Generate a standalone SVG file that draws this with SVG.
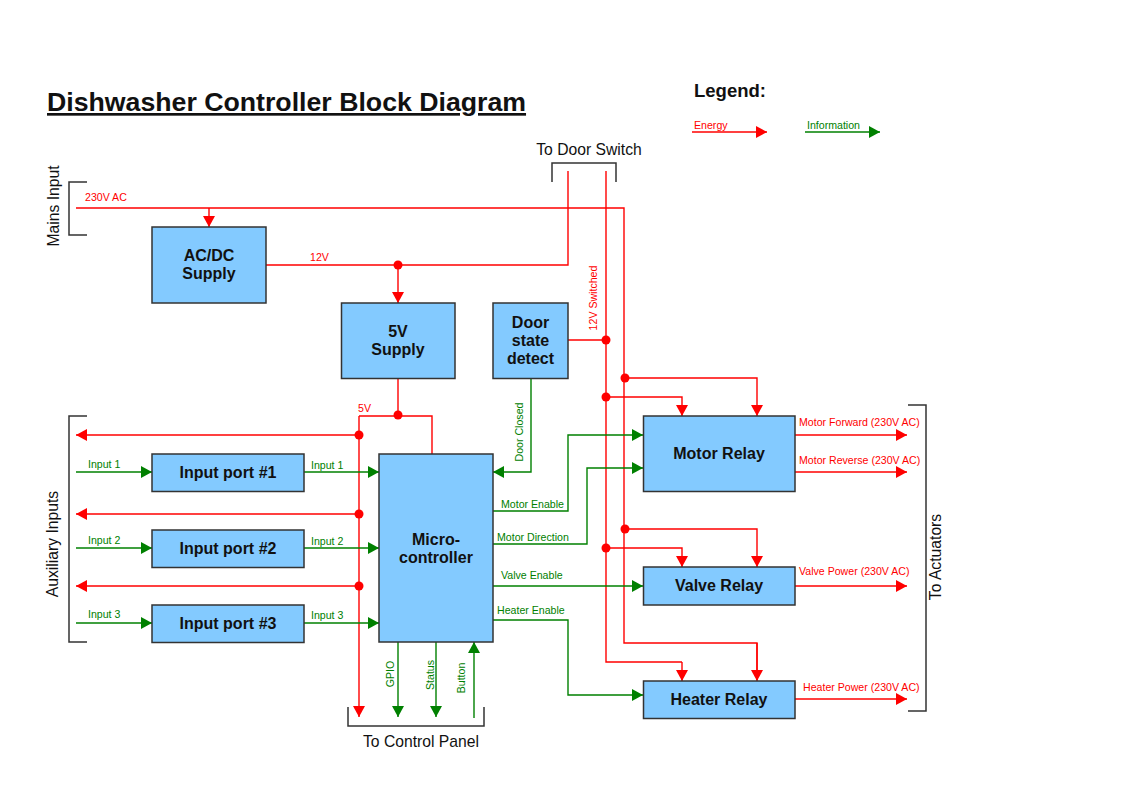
<svg xmlns="http://www.w3.org/2000/svg" width="1123" height="794" viewBox="0 0 1123 794">
<style>
text{font-family:"Liberation Sans",Arial,sans-serif}
.box{fill:#83caff;stroke:#333;stroke-width:1.5}
.bl{font-weight:bold;font-size:16px;fill:#111;text-anchor:middle}
.r{fill:none;stroke:#ff0000;stroke-width:1.4}
.g{fill:none;stroke:#008000;stroke-width:1.4}
.ra{marker-end:url(#ar)}
.ga{marker-end:url(#ag)}
.dot{fill:#ff0000}
.tr{font-size:10.6px;fill:#ff0000}
.tg{font-size:10.6px;fill:#008000}
.br{fill:none;stroke:#333;stroke-width:1.5}
.bt{font-size:15.7px;fill:#111}
</style>
<defs>
<marker id="ar" markerUnits="userSpaceOnUse" markerWidth="11" markerHeight="12" refX="11" refY="6" orient="auto"><path d="M0,0 L11,6 L0,12 z" fill="#ff0000"/></marker>
<marker id="ag" markerUnits="userSpaceOnUse" markerWidth="11" markerHeight="12" refX="11" refY="6" orient="auto"><path d="M0,0 L11,6 L0,12 z" fill="#008000"/></marker>
</defs>
<rect width="1123" height="794" fill="#fff"/>

<text x="47" y="111" font-size="26.7" font-weight="bold" fill="#111" text-decoration="underline">Dishwasher Controller Block Diagram</text>

<g id="legend">
<text x="694" y="97" font-size="18.5" font-weight="bold" fill="#111">Legend:</text>
<text x="694" y="129" class="tr">Energy</text>
<line x1="692" y1="132" x2="767" y2="132" class="r ra"/>
<text x="807" y="129" class="tg">Information</text>
<line x1="805" y1="132" x2="880" y2="132" class="g ga"/>
</g>

<g id="brackets">
<path class="br" d="M87,182 H69 V235 H87"/>
<text class="bt" text-anchor="middle" transform="translate(59,206) rotate(-90)">Mains Input</text>
<path class="br" d="M87,416 H69 V642 H87"/>
<text class="bt" text-anchor="middle" transform="translate(58,544) rotate(-90)">Auxiliary Inputs</text>
<path class="br" d="M552,182 V163 H616 V182"/>
<text class="bt" text-anchor="middle" x="589" y="155">To Door Switch</text>
<path class="br" d="M348,707 V726 H484 V707"/>
<text class="bt" text-anchor="middle" x="421" y="747">To Control Panel</text>
<path class="br" d="M908,405 H926 V711 H908"/>
<text class="bt" text-anchor="middle" transform="translate(941,557) rotate(-90)">To Actuators</text>
</g>

<g id="connectors">
<path class="r" d="M76,208 H624 V643 H757 V680"/>
<path class="r ra" d="M757,643 V681"/>
<path class="r ra" d="M209,208 V227"/>
<text class="tr" x="85" y="201">230V AC</text>
<path class="r" d="M266,265 H568 V171"/>
<path class="r ra" d="M398,265 V303"/>
<text class="tr" x="310" y="261">12V</text>
<path class="r" d="M606,171 V662 H682"/>
<path class="r ra" d="M682,662 V681"/>
<path class="r" d="M568,340 H606"/>
<text class="tr" text-anchor="middle" transform="translate(597,298) rotate(-90)">12V Switched</text>
<path class="r ra" d="M625,378 H757 V416"/>
<path class="r ra" d="M606,397 H682 V416"/>
<path class="r ra" d="M625,529 H757 V567"/>
<path class="r ra" d="M606,548 H682 V567"/>
<path class="r" d="M398,378 V416"/>
<path class="r" d="M359,416 H432 V454"/>
<path class="r ra" d="M359,416 V717"/>
<text class="tr" x="358" y="412">5V</text>
<path class="r ra" d="M359,435 H76"/>
<path class="r ra" d="M359,514 H76"/>
<path class="r ra" d="M359,586 H76"/>
<path class="g ga" d="M76,472 H152"/>
<path class="g ga" d="M76,548 H152"/>
<path class="g ga" d="M76,623 H152"/>
<text class="tg" x="88" y="468">Input 1</text>
<text class="tg" x="88" y="544">Input 2</text>
<text class="tg" x="88" y="618">Input 3</text>
<path class="g ga" d="M304,472 H379"/>
<path class="g ga" d="M304,548 H379"/>
<path class="g ga" d="M304,623 H379"/>
<text class="tg" x="311" y="469">Input 1</text>
<text class="tg" x="311" y="545">Input 2</text>
<text class="tg" x="311" y="619">Input 3</text>
<path class="g ga" d="M531,378 V472 H493"/>
<text class="tg" text-anchor="middle" transform="translate(523,432) rotate(-90)">Door Closed</text>
<path class="g ga" d="M493,511 H568 V435 H643"/>
<text class="tg" x="501" y="508">Motor Enable</text>
<path class="g ga" d="M493,544 H587 V468 H643"/>
<text class="tg" x="497" y="541">Motor Direction</text>
<path class="g ga" d="M493,586 H643"/>
<text class="tg" x="501" y="579">Valve Enable</text>
<path class="g ga" d="M493,620 H568 V695 H643"/>
<text class="tg" x="497" y="614">Heater Enable</text>
<path class="g ga" d="M398,642 V717"/>
<text class="tg" text-anchor="middle" transform="translate(394,674) rotate(-90)">GPIO</text>
<path class="g ga" d="M436,642 V717"/>
<text class="tg" text-anchor="middle" transform="translate(434,675) rotate(-90)">Status</text>
<path class="g ga" d="M474,718 V642"/>
<text class="tg" text-anchor="middle" transform="translate(465,678) rotate(-90)">Button</text>
<path class="r ra" d="M795,435 H907"/>
<text class="tr" x="799" y="426">Motor Forward (230V AC)</text>
<path class="r ra" d="M795,472 H907"/>
<text class="tr" x="799" y="464">Motor Reverse (230V AC)</text>
<path class="r ra" d="M795,586 H907"/>
<text class="tr" x="799" y="575">Valve Power (230V AC)</text>
<path class="r ra" d="M795,699 H907"/>
<text class="tr" x="803" y="691">Heater Power (230V AC)</text>
<circle class="dot" cx="398" cy="265" r="4.5"/>
<circle class="dot" cx="606" cy="340" r="4.5"/>
<circle class="dot" cx="625" cy="378" r="4.5"/>
<circle class="dot" cx="606" cy="397" r="4.5"/>
<circle class="dot" cx="625" cy="529" r="4.5"/>
<circle class="dot" cx="606" cy="548" r="4.5"/>
<circle class="dot" cx="398" cy="415" r="4.5"/>
<circle class="dot" cx="359" cy="435" r="4.5"/>
<circle class="dot" cx="359" cy="514" r="4.5"/>
<circle class="dot" cx="359" cy="586" r="4.5"/>
</g>

<g id="acdc"><rect class="box" x="152" y="227" width="114" height="76"/><text class="bl" x="209" y="261">AC/DC</text><text class="bl" x="209" y="279">Supply</text></g>
<g id="supply5v"><rect class="box" x="341.5" y="303" width="113.5" height="75.5"/><text class="bl" x="398" y="337">5V</text><text class="bl" x="398" y="355">Supply</text></g>
<g id="doordetect"><rect class="box" x="493" y="303" width="75" height="75.5"/><text class="bl" x="530.5" y="328">Door</text><text class="bl" x="530.5" y="346">state</text><text class="bl" x="530.5" y="364">detect</text></g>
<g id="input1"><rect class="box" x="152" y="454" width="152" height="37.5"/><text class="bl" x="228" y="478">Input port #1</text></g>
<g id="input2"><rect class="box" x="152" y="530" width="152" height="37.5"/><text class="bl" x="228" y="554">Input port #2</text></g>
<g id="input3"><rect class="box" x="152" y="605" width="152" height="37.5"/><text class="bl" x="228" y="629">Input port #3</text></g>
<g id="micro"><rect class="box" x="379" y="454" width="114" height="188"/><text class="bl" x="436" y="545">Micro-</text><text class="bl" x="436" y="563">controller</text></g>
<g id="motorrelay"><rect class="box" x="643.5" y="416" width="151.5" height="75.5"/><text class="bl" x="719" y="459">Motor Relay</text></g>
<g id="valverelay"><rect class="box" x="643.5" y="567" width="151.5" height="38"/><text class="bl" x="719" y="591">Valve Relay</text></g>
<g id="heaterrelay"><rect class="box" x="643.5" y="681" width="151.5" height="37.5"/><text class="bl" x="719" y="705">Heater Relay</text></g>
</svg>
